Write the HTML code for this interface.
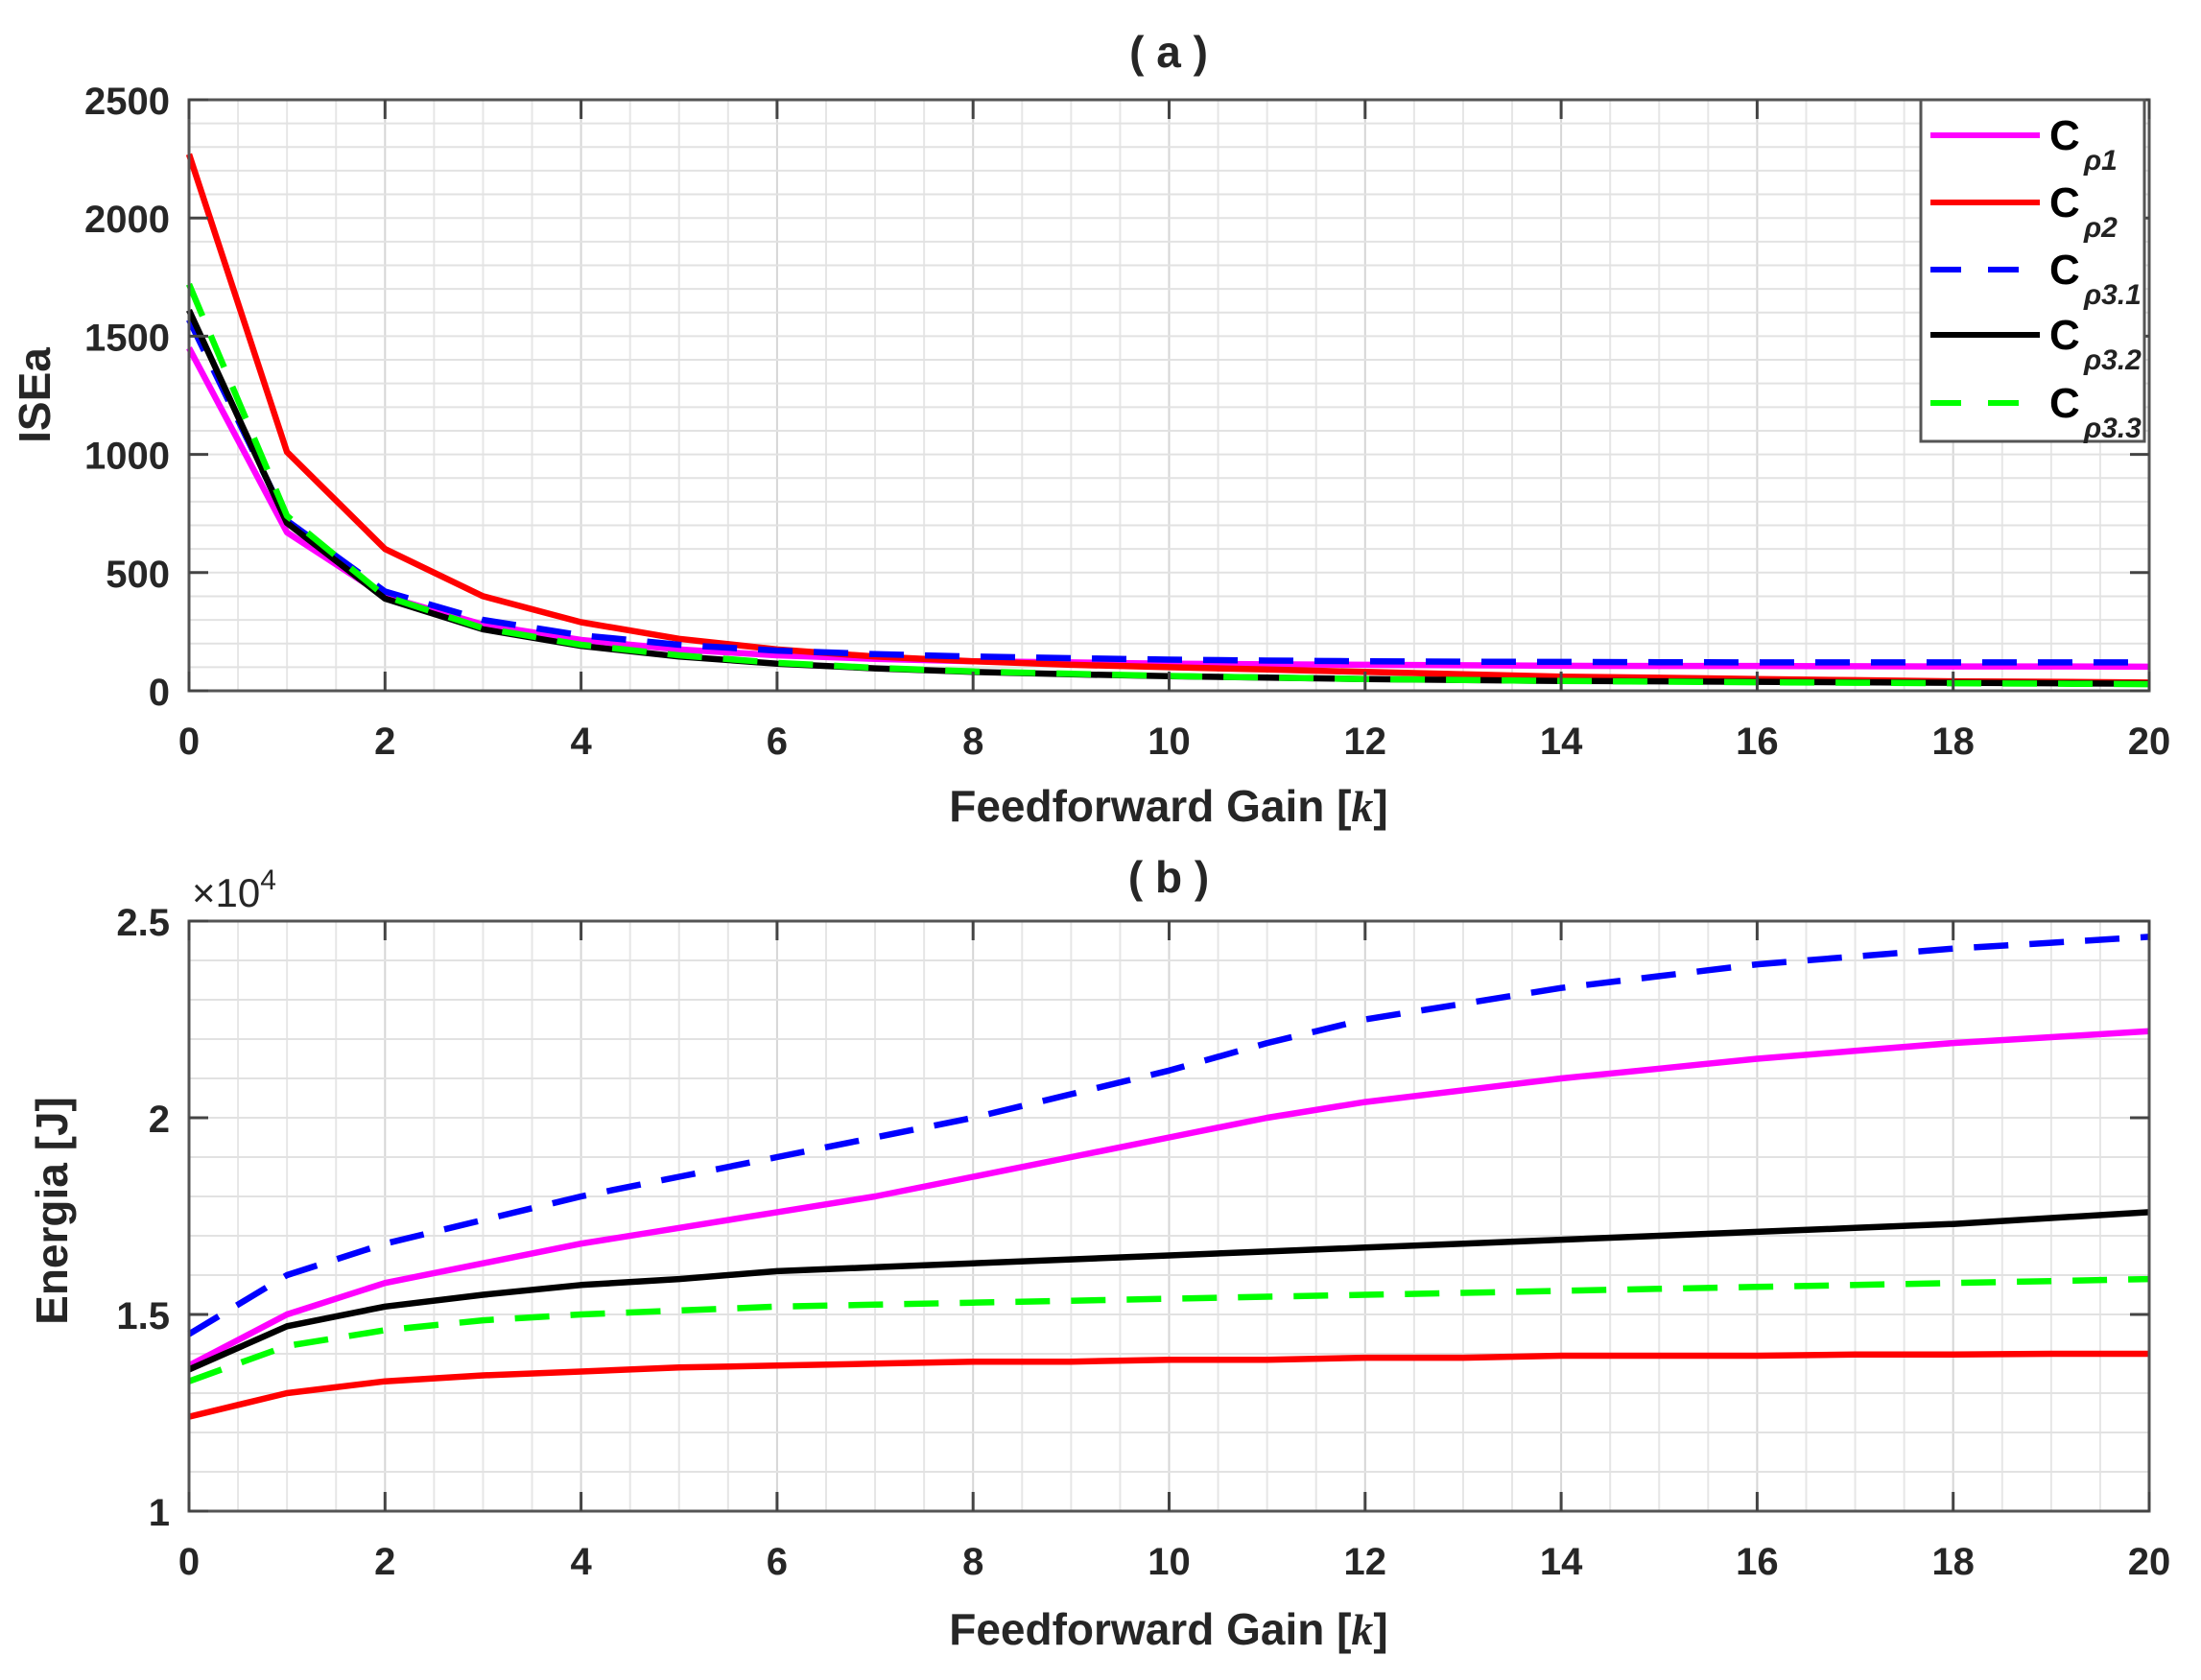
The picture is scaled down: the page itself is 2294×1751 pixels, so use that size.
<!DOCTYPE html>
<html><head><meta charset="utf-8">
<style>
html,body{margin:0;padding:0;background:#fff;}
svg{display:block;font-family:"Liberation Sans",Arial,sans-serif;}
</style></head>
<body>
<svg id="fig" width="2294" height="1751" viewBox="0 0 2294 1751" xmlns="http://www.w3.org/2000/svg">
<rect x="0" y="0" width="2294" height="1751" fill="#fff"/>
<g id="plotA"></g>
<g id="plotB"></g>
</svg>
<script>
const kValues = [0,1,2,3,4,5,6,7,8,9,10,11,12,13,14,15,16,17,18,19,20];
const xTicks = [0,2,4,6,8,10,12,14,16,18,20];
const seriesNames = ["c_rho1","c_rho2","c_rho3.1","c_rho3.2","c_rho3.3"];
const legendSubs = ["ρ1","ρ2","ρ3.1","ρ3.2","ρ3.3"];
// (a) ISEa
const iseRho1  = [1450,670,400,280,215,175,150,135,125,120,115,112,110,108,106,105,105,104,103,103,102];
const iseRho2  = [2270,1010,600,400,290,220,175,145,125,110,100,90,80,70,60,55,50,45,40,38,35];
const iseRho31 = [1570,720,420,300,235,195,170,155,145,138,132,128,125,123,122,121,120,120,120,120,120];
const iseRho32 = [1610,710,390,260,190,145,115,95,80,70,62,56,50,46,42,40,38,36,34,32,30];
const iseRho33 = [1720,740,400,265,195,150,118,97,82,72,63,56,50,46,42,39,36,34,32,30,28];
const iseTicks = [0,500,1000,1500,2000,2500];
// (b) Energia (x10^4)
const enRho1  = [1.37,1.50,1.58,1.63,1.68,1.72,1.76,1.80,1.85,1.90,1.95,2.00,2.04,2.07,2.10,2.125,2.15,2.17,2.19,2.205,2.22];
const enRho2  = [1.24,1.30,1.33,1.345,1.355,1.365,1.37,1.375,1.38,1.38,1.385,1.385,1.39,1.39,1.395,1.395,1.395,1.398,1.398,1.40,1.40];
const enRho31 = [1.45,1.60,1.68,1.74,1.80,1.85,1.90,1.95,2.00,2.06,2.12,2.19,2.25,2.29,2.33,2.36,2.39,2.41,2.43,2.445,2.46];
const enRho32 = [1.36,1.47,1.52,1.55,1.575,1.59,1.61,1.62,1.63,1.64,1.65,1.66,1.67,1.68,1.69,1.70,1.71,1.72,1.73,1.745,1.76];
const enRho33 = [1.33,1.42,1.46,1.485,1.50,1.51,1.52,1.525,1.53,1.535,1.54,1.545,1.55,1.555,1.56,1.565,1.57,1.575,1.58,1.585,1.59];
const enTicks = [1,1.5,2,2.5];
const enTickLabels = ["1","1.5","2","2.5"];

const NS="http://www.w3.org/2000/svg";
const colors=["#ff00ff","#ff0000","#0000ff","#000000","#00ff00"];
const dashed=[false,false,true,false,true];

function mk(parent,tag,attrs){const e=document.createElementNS(NS,tag);for(const k in attrs)e.setAttribute(k,attrs[k]);parent.appendChild(e);return e;}

function drawPlot(g, box, yMin, yMax, yMajor, yMinorStep, yTickVals, yTickLabels, series, prefix){
  const L=box.l,R=box.r,T=box.t,B=box.b;
  const sx=v=>L+(v-0)/(20-0)*(R-L);
  const sy=v=>B-(v-yMin)/(yMax-yMin)*(B-T);
  for(let x=0;x<=20.001;x+=0.5){
    const ln=mk(g,"line",{x1:sx(x),x2:sx(x),y1:T,y2:B,stroke:(x%2===0)?"#d6d6d6":"#e6e6e6","stroke-width":2});
    
    
  }
  const nMinor=Math.round((yMax-yMin)/yMinorStep);
  for(let i=0;i<=nMinor;i++){
    const v=yMin+i*yMinorStep;
    const ln=mk(g,"line",{x1:L,x2:R,y1:sy(v),y2:sy(v),stroke:"#e2e2e2","stroke-width":2});
    
    
  }
  series.forEach((arr,si)=>{
    const pts=arr.map((v,i)=>sx(kValues[i]).toFixed(1)+","+sy(v).toFixed(1)).join(" ");
    const pl=mk(g,"polyline",{points:pts,fill:"none",stroke:colors[si],"stroke-width":6.5,"stroke-linejoin":"round"});
    if(dashed[si])pl.setAttribute("stroke-dasharray","36 22");
    
    
  });
  const bx=mk(g,"rect",{x:L,y:T,width:R-L,height:B-T,fill:"none",stroke:"#555","stroke-width":3});
  
  
  xTicks.forEach(v=>{
    mk(g,"line",{x1:sx(v),x2:sx(v),y1:B,y2:B-20,stroke:"#444","stroke-width":3});
    mk(g,"line",{x1:sx(v),x2:sx(v),y1:T,y2:T+20,stroke:"#444","stroke-width":3});
    const t=mk(g,"text",{x:sx(v),y:B+66,"text-anchor":"middle","font-size":40,"font-weight":"bold",fill:"#262626"});
    t.textContent=String(v);
    
    
  });
  yTickVals.forEach((v,i)=>{
    mk(g,"line",{x1:L,x2:L+20,y1:sy(v),y2:sy(v),stroke:"#444","stroke-width":3});
    mk(g,"line",{x1:R,x2:R-20,y1:sy(v),y2:sy(v),stroke:"#444","stroke-width":3});
    const t=mk(g,"text",{x:L-20,y:sy(v)+15,"text-anchor":"end","font-size":40,"font-weight":"bold",fill:"#262626"});
    t.textContent=yTickLabels[i];
    
    
  });
}

const gA=document.getElementById("plotA");
drawPlot(gA,{l:197,r:2240,t:104,b:720},0,2500,500,100,iseTicks,iseTicks.map(String),[iseRho1,iseRho2,iseRho31,iseRho32,iseRho33],"a");
const gB=document.getElementById("plotB");
drawPlot(gB,{l:197,r:2240,t:960,b:1575},1,2.5,0.5,0.1,enTicks,enTickLabels,[enRho1,enRho2,enRho31,enRho32,enRho33],"b");

const lg=mk(gA,"g",{});


mk(lg,"rect",{x:2002,y:104,width:233,height:356,fill:"#fff",stroke:"#555","stroke-width":3});
const legY=[141,211,281,349,420];
legY.forEach((y,i)=>{
  const ln=mk(lg,"line",{x1:2012,x2:2126,y1:y,y2:y,stroke:colors[i],"stroke-width":6});
  if(dashed[i])ln.setAttribute("stroke-dasharray","32 28");
  
  
  const t=mk(lg,"text",{x:2136,y:y+15,"font-size":44,"font-weight":"bold",fill:"#000"});
  t.textContent="C";
  
  
  const s=mk(lg,"text",{x:2172,y:y+36,"font-size":30,"font-weight":"bold","font-style":"italic",fill:"#222"});
  s.textContent=legendSubs[i];
  
  
});
</script>
<svg style="position:absolute;left:0;top:0" width="2294" height="1751" xmlns="http://www.w3.org/2000/svg">
<g font-family="Liberation Sans, Arial, sans-serif" font-weight="bold" fill="#262626">
<text x="1218" y="70" font-size="46" text-anchor="middle">( a )</text>
<text x="1218" y="930" font-size="46" text-anchor="middle">( b )</text>
<text x="1218" y="856" font-size="46" text-anchor="middle">Feedforward Gain [<tspan font-style="italic" font-family="Liberation Serif, serif">k</tspan>]</text>
<text x="1218" y="1714" font-size="46" text-anchor="middle">Feedforward Gain [<tspan font-style="italic" font-family="Liberation Serif, serif">k</tspan>]</text>
<text transform="translate(52,412) rotate(-90)" font-size="46" text-anchor="middle">ISEa</text>
<text transform="translate(70,1262) rotate(-90)" font-size="46" text-anchor="middle">Energia [J]</text>
<text x="200" y="945" font-size="42" font-weight="normal">×10<tspan font-size="30" dy="-18">4</tspan></text>
</g>
</svg>
</body></html>
